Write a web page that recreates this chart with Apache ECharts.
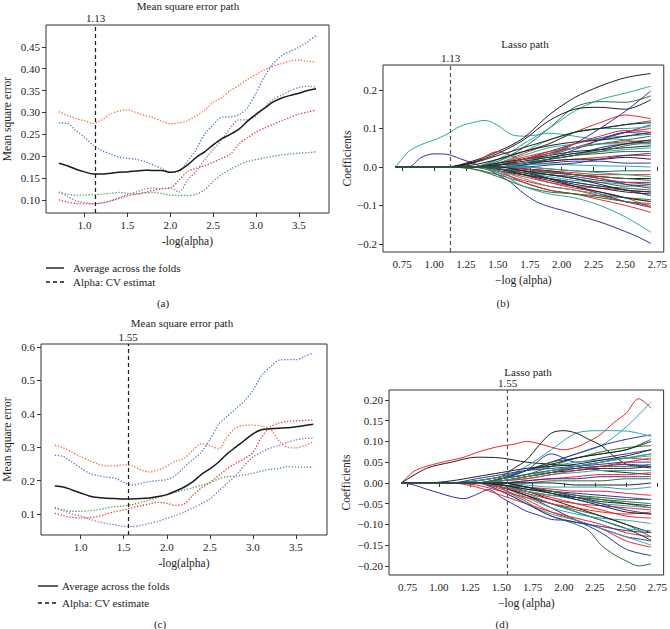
<!DOCTYPE html>
<html><head><meta charset="utf-8">
<script src="https://cdn.jsdelivr.net/npm/echarts@6.0.0/dist/echarts.min.js"></script>
<style>html,body{margin:0;padding:0;background:#fff}#c{width:670px;height:629px}</style>
</head><body><div id="c"></div>
<script>
// ---------------- DATA ----------------
const mseX = [0.7,0.8,0.9,1.0,1.1,1.2,1.3,1.4,1.5,1.6,1.7,1.8,1.9,2.0,2.1,2.2,2.3,2.4,2.5,2.6,2.7,2.8,2.9,3.0,3.1,3.2,3.3,3.4,3.5,3.6,3.7];
const lassoX = [0.7,0.9,1.1,1.3,1.5,1.7,1.9,2.1,2.3,2.5,2.7];
const lassoXFine = [0.7,0.8,0.9,1.0,1.1,1.2,1.3,1.4,1.5,1.6,1.7,1.8,1.9,2.0,2.1,2.2,2.3,2.4,2.5,2.6,2.7];

const alphaA = 1.13, alphaC = 1.55;

// panel (a) folds: blue, orange, green, red, purple; then average
const aBlue   = [0.276,0.275,0.258,0.243,0.225,0.213,0.205,0.198,0.195,0.193,0.188,0.180,0.172,0.163,0.165,0.188,0.215,0.250,0.272,0.289,0.290,0.295,0.311,0.345,0.383,0.412,0.430,0.440,0.449,0.462,0.476];
const aOrange = [0.302,0.293,0.286,0.281,0.275,0.283,0.296,0.303,0.306,0.300,0.293,0.288,0.280,0.274,0.276,0.281,0.292,0.305,0.323,0.334,0.350,0.362,0.376,0.387,0.398,0.406,0.412,0.418,0.420,0.417,0.415];
const aGreen  = [0.118,0.113,0.111,0.111,0.112,0.113,0.115,0.117,0.115,0.114,0.116,0.117,0.114,0.111,0.110,0.110,0.113,0.123,0.143,0.158,0.170,0.180,0.188,0.192,0.196,0.200,0.203,0.205,0.207,0.208,0.210];
const aRed    = [0.100,0.095,0.092,0.091,0.091,0.093,0.097,0.103,0.109,0.113,0.117,0.122,0.126,0.127,0.145,0.165,0.172,0.178,0.186,0.195,0.205,0.228,0.242,0.255,0.264,0.273,0.281,0.289,0.296,0.301,0.305];
const aPurple = [0.118,0.108,0.098,0.094,0.091,0.093,0.098,0.105,0.112,0.118,0.125,0.127,0.125,0.128,0.118,0.145,0.165,0.192,0.215,0.238,0.265,0.283,0.283,0.292,0.312,0.330,0.340,0.350,0.357,0.360,0.358];
const aAvg    = [0.184,0.178,0.170,0.164,0.159,0.159,0.161,0.163,0.164,0.166,0.168,0.167,0.167,0.163,0.167,0.180,0.197,0.210,0.226,0.240,0.250,0.262,0.280,0.296,0.310,0.324,0.333,0.339,0.344,0.350,0.354];

// panel (c)
const cBlue   = [0.276,0.272,0.255,0.238,0.222,0.215,0.210,0.207,0.195,0.186,0.192,0.197,0.200,0.203,0.215,0.240,0.262,0.285,0.322,0.368,0.392,0.415,0.438,0.470,0.515,0.540,0.560,0.562,0.562,0.572,0.582];
const cOrange = [0.306,0.298,0.285,0.272,0.260,0.250,0.244,0.244,0.247,0.244,0.232,0.226,0.232,0.243,0.258,0.266,0.290,0.310,0.305,0.295,0.330,0.358,0.365,0.366,0.363,0.355,0.320,0.300,0.298,0.305,0.316];
const cGreen  = [0.118,0.112,0.108,0.108,0.110,0.113,0.118,0.122,0.124,0.128,0.135,0.142,0.150,0.157,0.165,0.172,0.178,0.186,0.193,0.205,0.212,0.213,0.217,0.222,0.228,0.234,0.236,0.242,0.240,0.240,0.241];
const cRed    = [0.102,0.095,0.090,0.088,0.089,0.093,0.100,0.107,0.112,0.119,0.125,0.130,0.135,0.132,0.126,0.130,0.155,0.178,0.195,0.215,0.235,0.252,0.265,0.285,0.330,0.360,0.372,0.377,0.379,0.380,0.381];
const cPurple = [0.118,0.110,0.100,0.094,0.085,0.077,0.072,0.067,0.063,0.062,0.066,0.072,0.078,0.087,0.095,0.105,0.118,0.130,0.145,0.168,0.192,0.215,0.245,0.270,0.285,0.297,0.305,0.315,0.322,0.326,0.327];
const cAvg    = [0.184,0.181,0.172,0.163,0.154,0.149,0.147,0.146,0.145,0.145,0.146,0.148,0.152,0.158,0.168,0.180,0.196,0.218,0.235,0.255,0.280,0.300,0.320,0.340,0.352,0.355,0.357,0.358,0.361,0.365,0.369];

// panel (b) lasso paths (colour cycle b, r, g, c, k); 21 values -> fine grid, 11 values -> coarse grid
const bPaths = [
  [0,0,0.025,0.034,0.033,0.022,0.01,-0.003,-0.02,-0.04,-0.068,-0.09,-0.103,-0.112,-0.122,-0.133,-0.143,-0.155,-0.168,-0.182,-0.199],
  [0,0,0,0,0.01,0.035,0.06,0.09,0.115,0.135,0.125],
  [0,0,0,0,0.015,0.05,0.1,0.155,0.17,0.168,0.185],
  [0,0.04,0.058,0.07,0.085,0.105,0.115,0.121,0.108,0.085,0.08,0.083,0.088,0.085,0.08,0.075,0.07,0.073,0.07,0.065,0.06],
  [0,0,0,0.015,0.04,0.075,0.135,0.18,0.21,0.232,0.243],
  [0,0,0,0,0,0.01,0.03,0.06,0.1,0.145,0.198],
  [0,0,0,0.01,0.04,0.02,0.03,0.05,0.07,0.09,0.1],
  [0,0,0,0,0.02,0.04,0.06,0.09,0.1,0.11,0.12],
  [0,0,0,0,0.02,0.06,0.1,0.145,0.175,0.192,0.21],
  [0,0,0,0.012,0.035,0.07,0.12,0.15,0.155,0.15,0.175],
  [0,0,0,0,0.005,0.02,0.04,0.06,0.075,0.09,0.11],
  [0,0,0,0,0.01,0.025,0.04,0.05,0.06,0.065,0.07],
  [0,0,0,0,0.005,0.02,0.035,0.05,0.06,0.07,0.08],
  [0,0,0,0,0.015,0.04,0.07,0.09,0.1,0.1,0.105],
  [0,0,0,0.01,0.03,0.05,0.07,0.09,0.1,0.11,0.115],
  [0,0,0,0,0,0.01,0.02,0.03,0.05,0.06,0.065],
  [0,0,0,0,0,0.005,0.015,0.02,0.025,0.03,0.03],
  [0,0,0,0,0,0.01,0.02,0.03,0.035,0.04,0.04],
  [0,0,0,0,0.01,0.03,0.05,0.06,0.075,0.08,0.085],
  [0,0,0,0.005,0.02,0.04,0.055,0.065,0.07,0.08,0.09],
  [0,0,0,0,0,0.005,0.01,0.015,0.015,0.01,0.01],
  [0,0,0,0,0,-0.005,-0.01,-0.015,-0.02,-0.02,-0.02],
  [0,0,0,0,0,0,-0.005,-0.01,-0.012,-0.01,-0.01],
  [0,0,0,0,0.01,0.02,0.025,0.035,0.04,0.045,0.05],
  [0,0,0,0,0.01,0.02,0.03,0.04,0.045,0.05,0.055],
  [0,0,0,0,-0.005,-0.01,-0.02,-0.025,-0.035,-0.04,-0.04],
  [0,0,0,0,-0.01,-0.025,-0.04,-0.05,-0.055,-0.06,-0.065],
  [0,0,0,0,-0.01,-0.02,-0.03,-0.04,-0.05,-0.055,-0.06],
  [0,0,0,0,0,0.005,0.008,0.005,0.003,0.002,0],
  [0,0,0,0,0.005,0.01,0.015,0.02,0.02,0.025,0.02],
  [0,0,0,0,-0.01,-0.02,-0.03,-0.04,-0.05,-0.06,-0.075],
  [0,0,0,0,-0.015,-0.035,-0.05,-0.06,-0.075,-0.09,-0.095],
  [0,0,0,-0.005,-0.02,-0.04,-0.06,-0.07,-0.075,-0.08,-0.085],
  [0,0,0,0,-0.005,-0.015,-0.025,-0.035,-0.04,-0.045,-0.05],
  [0,0,0,0,0,-0.005,-0.01,-0.02,-0.025,-0.03,-0.03],
  [0,0,0,0,0,-0.01,-0.03,-0.05,-0.07,-0.09,-0.105],
  [0,0,0,0,-0.01,-0.04,-0.06,-0.07,-0.085,-0.1,-0.118],
  [0,0,0,-0.005,-0.025,-0.05,-0.065,-0.07,-0.08,-0.09,-0.1],
  [0,0,0,0,-0.015,-0.05,-0.07,-0.08,-0.1,-0.13,-0.17],
  [0,0,0,0,-0.005,-0.015,-0.03,-0.045,-0.055,-0.065,-0.07],
  [0,0,0,0,0,0.005,0.02,0.045,0.07,0.09,0.085],
  [0,0,0,0,-0.005,-0.02,-0.04,-0.055,-0.065,-0.08,-0.105],
  [0,0,0,0,-0.005,-0.015,-0.02,-0.03,-0.04,-0.05,-0.045],
  [0,0,0,0,-0.01,-0.03,-0.05,-0.06,-0.07,-0.08,-0.09],
  [0,0,0,0,-0.005,-0.02,-0.035,-0.05,-0.065,-0.08,-0.09],
  [0,0,0,0,0,-0.005,-0.015,-0.02,-0.03,-0.045,-0.055],
  [0,0,0,0,0.005,0.02,0.035,0.06,0.08,0.095,0.09],
  [0,0,0,0,0.005,0.01,0.02,0.03,0.04,0.055,0.065],
  [0,0,0,0,0,0.01,0.03,0.05,0.06,0.06,0.06],
  [0,0,0,0,0.005,0.015,0.025,0.035,0.045,0.06,0.07],
  [0,0,0,0,0,0,0.005,0.01,0.02,0.03,0.035],
  [0,0,0,0,0,-0.005,-0.012,-0.02,-0.03,-0.04,-0.045],
  [0,0,0,0,-0.005,-0.01,-0.015,-0.02,-0.025,-0.03,-0.035],
  [0,0,0,0,0,0,-0.005,-0.01,-0.015,-0.02,-0.025],
  [0,0,0,0,0,-0.01,-0.02,-0.03,-0.045,-0.06,-0.065]
];

// panel (d) lasso paths
const dPaths = [
  [0,-0.005,-0.015,-0.024,-0.033,-0.038,-0.028,-0.016,-0.035,-0.052,-0.068,-0.078,-0.088,-0.09,-0.095,-0.1,-0.11,-0.12,-0.13,-0.135,-0.14],
  [0,0.028,0.04,0.048,0.055,0.062,0.073,0.082,0.089,0.093,0.1,0.095,0.086,0.08,0.086,0.1,0.118,0.145,0.168,0.203,0.18],
  [0,0,0,0,0,0,0,0,-0.012,-0.03,-0.045,-0.065,-0.08,-0.09,-0.1,-0.115,-0.15,-0.172,-0.188,-0.2,-0.195],
  [0,0,0,0,0.01,0.03,0.05,0.07,0.09,0.135,0.195],
  [0,0.035,0.05,0.062,0.06,0.05,0.045,0.04,0.03,0.025,0.02],
  [0,0,0,0,0.01,0.03,0.05,0.07,0.09,0.105,0.116],
  [0,0,0,0,-0.015,-0.04,-0.07,-0.09,-0.11,-0.14,-0.155],
  [0,0,0,0,0.01,0.02,0.04,0.06,0.07,0.08,0.105],
  [0,0,0,0,0.01,0.04,0.08,0.12,0.126,0.125,0.112],
  [0,0,0,0,0,0,0,0,0.015,0.035,0.055,0.09,0.12,0.126,0.12,0.105,0.09,0.065,0.045,0.04,0.036],
  [0,0,0,0,-0.01,-0.03,-0.06,-0.09,-0.12,-0.16,-0.175],
  [0,0,0,-0.01,-0.03,-0.05,-0.07,-0.085,-0.1,-0.12,-0.13],
  [0,0,0,0.005,0.015,0.03,0.05,0.06,0.075,0.085,0.09],
  [0,0,0,0,-0.02,-0.05,-0.075,-0.09,-0.11,-0.13,-0.15],
  [0,0,0,0.005,0.015,0.03,0.045,0.06,0.07,0.08,0.1],
  [0,0,0,0,0.01,0.03,0.07,0.05,0.06,0.07,0.08],
  [0,0,0,0,0.01,0.02,0.03,0.04,0.05,0.06,0.055],
  [0,0,0,0,-0.01,-0.03,-0.05,-0.065,-0.08,-0.1,-0.13],
  [0,0,0,0,-0.01,-0.035,-0.06,-0.075,-0.085,-0.09,-0.098],
  [0,0,0,0,-0.005,-0.02,-0.04,-0.06,-0.08,-0.1,-0.12],
  [0,0,0,0,-0.02,-0.05,-0.08,-0.095,-0.105,-0.115,-0.12],
  [0,0,0,0,-0.005,-0.02,-0.035,-0.05,-0.065,-0.08,-0.085],
  [0,0,0,0,0.01,0.02,0.03,0.035,0.04,0.04,0.045],
  [0,0,0,0.005,0.015,0.03,0.04,0.05,0.055,0.06,0.065],
  [0,0,0,0,-0.01,-0.03,-0.05,-0.07,-0.09,-0.11,-0.138],
  [0,0,0,0.01,0.02,0.03,0.035,0.04,0.045,0.05,0.05],
  [0,0,0,0,0,0.005,0.01,0.015,0.02,0.02,0.025],
  [0,0,0,0,0,0,0.005,0.005,0.005,0.01,0.01],
  [0,0,0,0,-0.005,-0.025,-0.05,-0.07,-0.09,-0.11,-0.115],
  [0,0,0.005,0.015,0.025,0.035,0.04,0.045,0.055,0.065,0.08],
  [0,0,0,0,0,0.005,0.01,0.01,0.015,0.015,0.015],
  [0,0,0,0,-0.005,-0.01,-0.015,-0.02,-0.02,-0.025,-0.03],
  [0,0,0,0,-0.01,-0.02,-0.03,-0.035,-0.04,-0.045,-0.05],
  [0,0,0,0,0.005,0.01,0.02,0.025,0.03,0.03,0.03],
  [0,0,0,0,0.005,0.015,0.025,0.03,0.035,0.035,0.04],
  [0,0,0,0,-0.005,-0.015,-0.02,-0.025,-0.03,-0.035,-0.04],
  [0,0,0,-0.005,-0.02,-0.035,-0.05,-0.06,-0.07,-0.075,-0.07],
  [0,0,0,0,-0.005,-0.01,-0.02,-0.03,-0.04,-0.05,-0.06],
  [0,0,0,0,-0.01,-0.02,-0.03,-0.04,-0.05,-0.055,-0.06],
  [0,0,0,0,0,0,0,-0.005,-0.005,-0.005,0],
  [0,0,0,0,0.005,0.015,0.025,0.035,0.04,0.045,0.04],
  [0,0,0,0,-0.01,-0.025,-0.04,-0.05,-0.055,-0.06,-0.065],
  [0,0,0,0,0.005,0.015,0.025,0.04,0.05,0.06,0.07],
  [0,0,0,0,0,-0.005,-0.01,-0.01,-0.01,-0.015,-0.01],
  [0,0,0,0,-0.005,-0.015,-0.025,-0.035,-0.045,-0.05,-0.055],
  [0,0,0,0,0,-0.01,-0.02,-0.035,-0.05,-0.065,-0.075],
  [0,0,0,0,0.005,0.01,0.02,0.03,0.04,0.05,0.06],
  [0,0,0,0,0,-0.01,-0.02,-0.03,-0.035,-0.04,-0.04],
  [0,0,0,0,0.005,0.015,0.03,0.04,0.05,0.06,0.07],
  [0,0,0,0,0,-0.01,-0.025,-0.04,-0.055,-0.07,-0.075]
];

// tick labels
const mseXTicks = [1.0,1.5,2.0,2.5,3.0,3.5];
const aYTicks = [0.10,0.15,0.20,0.25,0.30,0.35,0.40,0.45];
const cYTicks = [0.1,0.2,0.3,0.4,0.5,0.6];
const lassoXTicks = [0.75,1.00,1.25,1.50,1.75,2.00,2.25,2.50,2.75];
const bYTicks = [-0.2,-0.1,0.0,0.1,0.2];
const dYTicks = [-0.20,-0.15,-0.10,-0.05,0.00,0.05,0.10,0.15,0.20];

// texts
const mseTitle = 'Mean square error path';
const lassoTitle = 'Lasso path';
const mseXName = '-log(alpha)';
const lassoXName = '\u2212log (alpha)';
const mseYName = 'Mean square error';
const lassoYName = 'Coefficients';
const legAvg = 'Average across the folds';
const legAlphaA = 'Alpha: CV estimat';
const legAlphaC = 'Alpha: CV estimate';
const panelLabels = ['(a)','(b)','(c)','(d)'];

// ---------------- STYLE / BUILD ----------------
const FONT = "'Liberation Serif','DejaVu Serif',serif";
const TXT = '#222';
const FOLD_COLORS = ['#4a78c8','#f4683c','#4e9a4e','#e03a3a','#8f6cb8'];
const CYCLE = ['#30309c','#e82626','#2d6b38','#2ea3a3','#1e1e1e'];

function fmt(v, dec) { const s = Math.abs(v).toFixed(dec); return (v < -1e-9 ? '\u2212' : '') + s; }

function xAxisCfg(gi, min, max, ticks, dec, name, gap) {
  return {
    type:'value', gridIndex:gi, min, max,
    name, nameLocation:'middle', nameGap:gap,
    nameTextStyle:{fontFamily:FONT, fontSize:11.5, color:TXT},
    axisLine:{show:false}, splitLine:{show:false},
    axisTick:{show:true, length:4, customValues:ticks, lineStyle:{color:'#333'}},
    axisLabel:{customValues:ticks, formatter:v => fmt(v,dec), fontFamily:FONT, fontSize:11, color:TXT, margin:6}
  };
}
function yAxisCfg(gi, min, max, ticks, dec, name, gap) {
  return {
    type:'value', gridIndex:gi, min, max,
    name, nameLocation:'middle', nameGap:gap, nameRotate:90,
    nameTextStyle:{fontFamily:FONT, fontSize:11.5, color:TXT},
    axisLine:{show:false}, splitLine:{show:false},
    axisTick:{show:true, length:4, customValues:ticks, lineStyle:{color:'#333'}},
    axisLabel:{customValues:ticks, formatter:v => fmt(v,dec), fontFamily:FONT, fontSize:11, color:TXT, margin:6}
  };
}

function markLineCfg(alpha, color) {
  return {
    silent:true, symbol:'none', animation:false,
    lineStyle:{type:[4,3], color, width:1.2},
    label:{show:true, position:'end', formatter:alpha.toFixed(2), fontFamily:FONT, fontSize:11, color:TXT, distance:2},
    data:[{xAxis:alpha}]
  };
}

function mseSeries(gi, folds, avg, alpha) {
  const s = folds.map((f,i) => ({
    type:'line', xAxisIndex:gi, yAxisIndex:gi, symbol:'none', silent:true, smooth:0.3,
    lineStyle:{width:1.3, type:[1.3,1.7], color:FOLD_COLORS[i]},
    data:f.map((v,j) => [mseX[j], v])
  }));
  s.push({
    type:'line', xAxisIndex:gi, yAxisIndex:gi, symbol:'none', silent:true, smooth:0.3,
    lineStyle:{width:1.5, color:'#1a1a1a'},
    data:avg.map((v,j) => [mseX[j], v]),
    markLine:markLineCfg(alpha, '#1a1a1a')
  });
  return s;
}

function lassoSeries(gi, paths, alpha) {
  const s = paths.map((p,i) => ({
    type:'line', xAxisIndex:gi, yAxisIndex:gi, symbol:'none', silent:true, smooth:0.3,
    lineStyle:{width:1, color:CYCLE[i % 5]},
    data:p.map((v,j) => [(p.length === lassoXFine.length ? lassoXFine : lassoX)[j], v])
  }));
  s[s.length-1].markLine = markLineCfg(alpha, '#555');
  return s;
}

const gridBase = {show:true, borderColor:'#333', borderWidth:1, backgroundColor:'transparent'};

function txt(x, y, text, align, size) {
  return {type:'text', x, y, style:{text, fontFamily:FONT, fontSize:size||11, fill:TXT, align:align||'center', verticalAlign:'middle'}};
}
function legLine(x1, x2, y, dashed) {
  return {type:'line', shape:{x1, y1:y, x2, y2:y}, style:{stroke:'#1a1a1a', lineWidth:1.4, lineDash: dashed ? [4,3] : null}};
}

const option = {
  animation:false,
  backgroundColor:'#fff',
  grid:[
    Object.assign({left:46, top:25, width:283, height:188}, gridBase),
    Object.assign({left:383, top:65, width:283, height:187}, gridBase),
    Object.assign({left:38, top:344, width:289, height:191}, gridBase),
    Object.assign({left:389, top:390, width:277, height:185}, gridBase)
  ],
  xAxis:[
    xAxisCfg(0, 0.55, 3.85, mseXTicks, 1, mseXName, 22),
    xAxisCfg(1, 0.6, 2.8, lassoXTicks, 2, lassoXName, 22),
    xAxisCfg(2, 0.54, 3.86, mseXTicks, 1, mseXName, 22),
    xAxisCfg(3, 0.6, 2.8, lassoXTicks, 2, lassoXName, 22)
  ],
  yAxis:[
    yAxisCfg(0, 0.070, 0.500, aYTicks, 2, mseYName, 33),
    yAxisCfg(1, -0.221, 0.265, bYTicks, 1, lassoYName, 30),
    yAxisCfg(2, 0.037, 0.609, cYTicks, 1, mseYName, 28),
    yAxisCfg(3, -0.222, 0.224, dYTicks, 2, lassoYName, 37)
  ],
  series:[].concat(
    mseSeries(0, [aBlue, aOrange, aGreen, aRed, aPurple], aAvg, alphaA),
    lassoSeries(1, bPaths, alphaA),
    mseSeries(2, [cBlue, cOrange, cGreen, cRed, cPurple], cAvg, alphaC),
    lassoSeries(3, dPaths, alphaC)
  ),
  graphic:[
    txt(188, 6, mseTitle),
    txt(525, 44, lassoTitle),
    txt(182, 323, mseTitle),
    txt(528, 372, lassoTitle),
    legLine(46, 64, 268, false), txt(73, 268, legAvg, 'left'),
    legLine(46, 64, 282, true), txt(73, 282, legAlphaA, 'left'),
    legLine(38, 58, 586, false), txt(62, 586, legAvg, 'left'),
    legLine(38, 58, 603, true), txt(62, 603, legAlphaC, 'left'),
    txt(163, 303, panelLabels[0]),
    txt(503, 303, panelLabels[1]),
    txt(160, 624, panelLabels[2]),
    txt(502, 624, panelLabels[3])
  ]
};

const chart = echarts.init(document.getElementById('c'), null, {renderer:'svg', width:670, height:629});
chart.setOption(option);
</script>
</body></html>
